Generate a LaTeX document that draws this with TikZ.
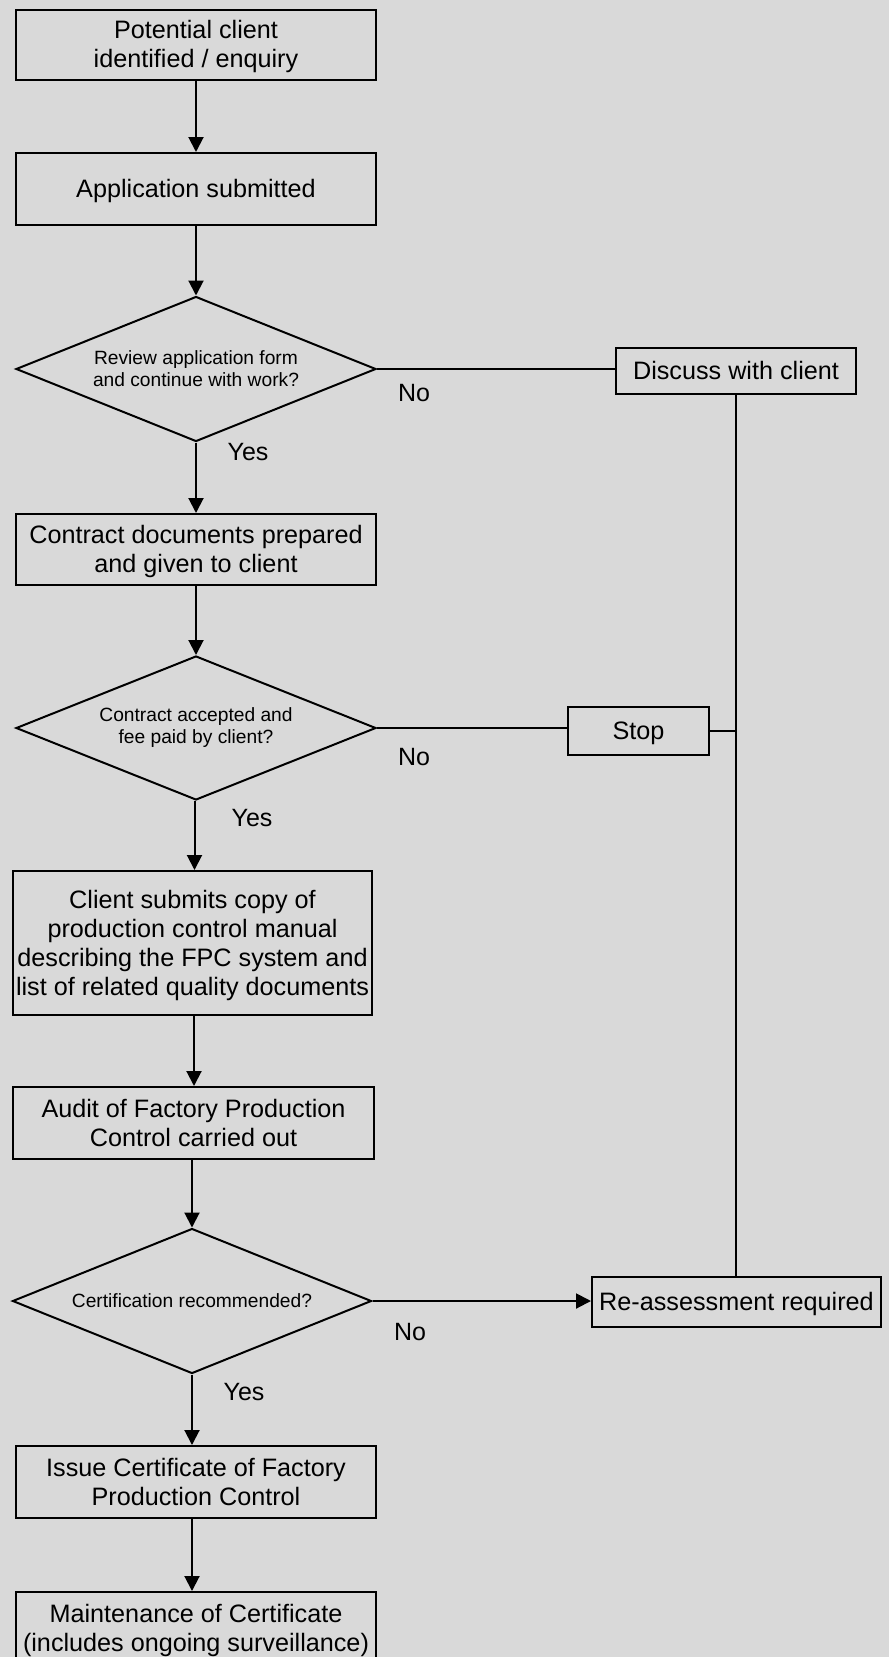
\documentclass[tikz,border=0pt]{standalone}
\usepackage{fontspec}
\setmainfont{Liberation Sans}
\usetikzlibrary{shapes.geometric,arrows.meta}
\definecolor{bg}{HTML}{D9D9D9}
\newcommand\lowtxt[1]{\raisebox{-3pt}[\height][\depth]{\begin{tabular}{@{}c@{}}#1\end{tabular}}}
\tikzset{
  box/.style={draw=black,line width=2pt,rectangle,inner sep=0pt,align=center,
    font=\fontsize{25.2}{29}\selectfont},
  dec/.style={draw=black,line width=2pt,diamond,inner sep=0pt,align=center,
    font=\fontsize{19.2}{22}\selectfont},
  lbl/.style={font=\fontsize{25}{29}\selectfont,inner sep=0pt},
  conn/.style={line width=2pt},
  arr/.style={line width=2pt,-{Triangle[length=15pt,width=15pt]}}
}
\begin{document}
\begin{tikzpicture}[x=1pt,y=-1pt]
\useasboundingbox (0,0) rectangle (889,1657);
\clip (0,0) rectangle (889,1657);
\fill[bg] (0,0) rectangle (889,1657);

\node[box,minimum width=360pt,minimum height=70pt] (b1) at (196,44.5) {\lowtxt{Potential client\\identified / enquiry}};
\node[box,minimum width=360pt,minimum height=72pt] (b2) at (196,189) {\lowtxt{Application submitted}};
\node[dec,minimum width=360pt,minimum height=145pt,shape aspect=2.48] (d1) at (196,369) {Review application form\\and continue with work?};
\node[box,minimum width=240pt,minimum height=46pt] (disc) at (736,371) {\lowtxt{Discuss with client}};
\node[box,minimum width=360pt,minimum height=71pt] (b3) at (196,549.5) {\lowtxt{Contract documents prepared\\and given to client}};
\node[dec,minimum width=360pt,minimum height=144pt,shape aspect=2.5] (d2) at (196,728) {Contract accepted and\\fee paid by client?};
\node[box,minimum width=141pt,minimum height=48pt] (stop) at (638.5,731) {\lowtxt{Stop}};
\node[box,minimum width=359pt,minimum height=144pt] (b4) at (192.5,943) {\lowtxt{Client submits copy of\\production control manual\\describing the FPC system and\\list of related quality documents}};
\node[box,minimum width=361pt,minimum height=72pt] (b5) at (193.5,1123) {\lowtxt{Audit of Factory Production\\Control carried out}};
\node[dec,minimum width=359pt,minimum height=145pt,shape aspect=2.48] (d3) at (192,1301) {Certification recommended?};
\node[box,minimum width=289pt,minimum height=50pt] (re) at (736.5,1301.5) {\lowtxt{Re-assessment required}};
\node[box,minimum width=360pt,minimum height=72pt] (b6) at (196,1482) {\lowtxt{Issue Certificate of Factory\\Production Control}};
\node[box,minimum width=360pt,minimum height=72pt,anchor=north] (b7) at (196,1591) {\lowtxt{Maintenance of Certificate\\(includes ongoing surveillance)}};

\draw[arr] (b1.south) -- (b2.north);
\draw[arr] (b2.south) -- (d1.north);
\draw[arr] (d1.south) -- (b3.north);
\draw[arr] (b3.south) -- (d2.north);
\draw[arr] (d2.south -| 194.5,0) -- (b4.north -| 194.5,0);
\draw[arr] (b4.south -| 194,0) -- (b5.north -| 194,0);
\draw[arr] (b5.south -| d3.north) -- (d3.north);
\draw[arr] (d3.south) -- (b6.north -| d3.south);
\draw[arr] (b6.south -| d3.south) -- (b7.north -| d3.south);

\draw[conn] (d1.east) -- (d1.east -| disc.west);
\draw[conn] (d2.east) -- (d2.east -| stop.west);
\draw[conn] (stop.east) -- (stop.east -| disc.south);
\draw[conn] (disc.south) -- (re.north -| disc.south);
\draw[arr] (d3.east) -- (d3.east -| re.west);

\node[lbl] (no1) at (414,393) {No};
\node[lbl] (no2) at (414,757) {No};
\node[lbl] (no3) at (410,1332) {No};
\node[lbl] (yes1) at (248,452) {Yes};
\node[lbl] (yes2) at (252,818) {Yes};
\node[lbl] (yes3) at (244,1392) {Yes};
\end{tikzpicture}
\end{document}
